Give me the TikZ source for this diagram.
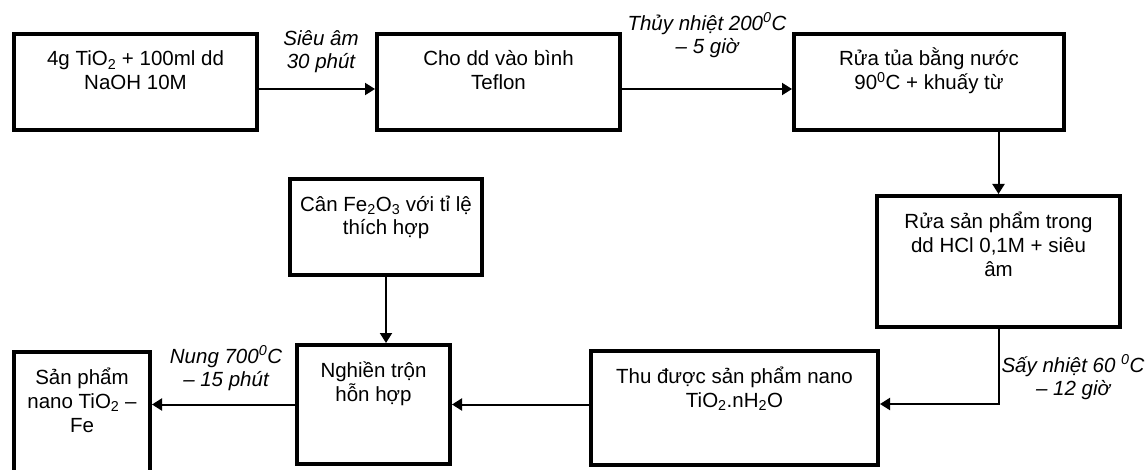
\documentclass[tikz,border=0pt]{standalone}
\usepackage{fontspec}
\setmainfont{Liberation Sans}
\usetikzlibrary{arrows.meta}
\newcommand{\boxtxt}[3]{\parbox[c][#2][t]{#1}{\centering\vspace*{12pt}\rule{0pt}{20pt}#3}}

\begin{document}
\begin{tikzpicture}[x=1pt,y=-1pt,font=\fontsize{20.5}{24}\selectfont,
  stepbox/.style={draw,line width=4pt,inner sep=0pt,anchor=north west},
  flow/.style={-{Triangle[length=10pt,width=12pt]},line width=2pt},
  cond/.style={font=\fontsize{20.5}{23}\selectfont\itshape,align=center}]
\useasboundingbox (0,0) rectangle (1147,470);

\node[stepbox] (tio) at (12,32) {\boxtxt{243pt}{96pt}{4g TiO\textsubscript{2} + 100ml dd\\NaOH 10M}};
\node[stepbox] (teflon) at (375,32) {\boxtxt{243pt}{96pt}{Cho dd vào bình\\Teflon}};
\node[stepbox] (ruatua) at (792,32) {\boxtxt{270pt}{96pt}{Rửa tủa bằng nước\\90\textsuperscript{0}C + khuấy từ}};
\node[stepbox] (ruasp) at (875,194) {\boxtxt{243pt}{131pt}{Rửa sản phẩm trong\\dd HCl 0,1M + siêu\\âm}};
\node[stepbox] (thu) at (589,349) {\boxtxt{287pt}{114pt}{Thu được sản phẩm nano\\TiO\textsubscript{2}.nH\textsubscript{2}O}};
\node[stepbox] (nghien) at (295,343) {\boxtxt{153pt}{119pt}{Nghiền trộn\\hỗn hợp}};
\node[stepbox] (sanpham) at (12,350) {\boxtxt{136pt}{128pt}{Sản phẩm\\nano TiO\textsubscript{2} --\\Fe}};
\node[stepbox] (can) at (288,177) {\boxtxt{192pt}{96pt}{Cân Fe\textsubscript{2}O\textsubscript{3} với tỉ lệ\\thích hợp}};

\draw[flow] ([yshift=-7pt]tio.east) -- ([yshift=-7pt]teflon.west);
\draw[flow] ([yshift=-7pt]teflon.east) -- ([yshift=-7pt]ruatua.west);
\draw[flow] (ruatua.south -| ruasp.north) -- (ruasp.north);
\draw[flow] (ruasp.south) |- ([yshift=4pt]thu.east);
\draw[flow] (thu.west |- nghien.east) -- (nghien.east);
\draw[flow] (nghien.west) -- (nghien.west -| sanpham.east);
\draw[flow] (can.south) -- (can.south |- nghien.north);

% dieu kien
\node[cond] (sieuam) at (321,52) {Siêu âm\\30 phút};
\node[cond] (thuynhiet) at (707,35) {Thủy nhiệt 200\textsuperscript{0}C\\-- 5 giờ};
\node[cond] (say) at (1073,377) {Sấy nhiệt 60 \textsuperscript{0}C\\-- 12 giờ};
\node[cond] (nung) at (226,368) {Nung 700\textsuperscript{0}C\\-- 15 phút};

\end{tikzpicture}
\end{document}
